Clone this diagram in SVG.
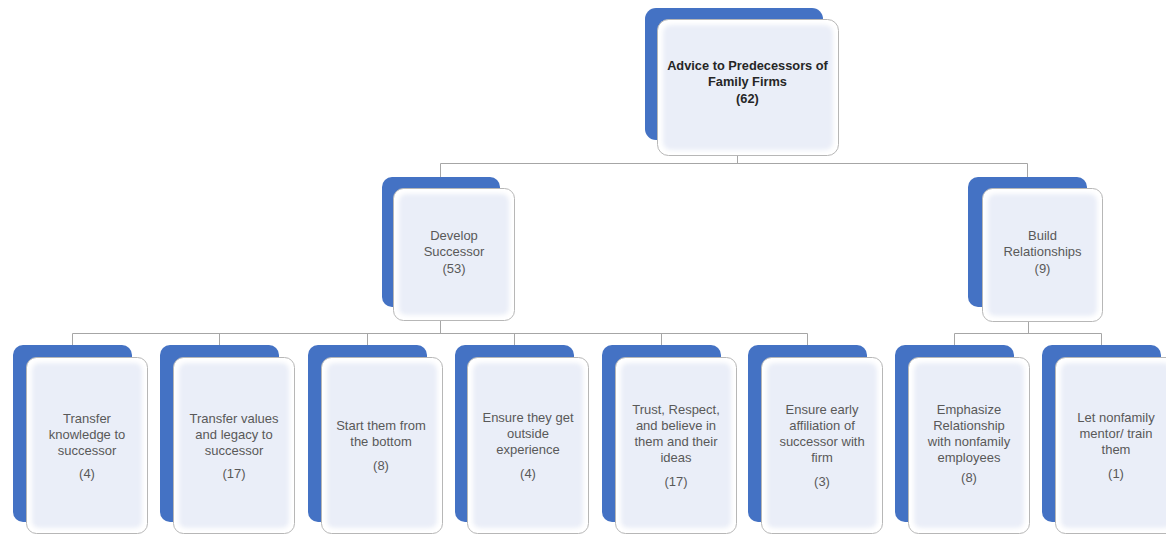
<svg xmlns="http://www.w3.org/2000/svg" width="1166" height="535" viewBox="0 0 1166 535">
  <defs>
    <style>
      .back { fill: #4472c4; }
      .card { fill: #ffffff; stroke: #b7b7b7; stroke-width: 1; }
      .tint { fill: #eaeef8; filter: url(#soft); }
      .wire { fill: none; stroke: #a6a6a6; stroke-width: 1; }
      .lbl { font-family: "Liberation Sans", Arial, sans-serif; font-size: 13px; fill: #595959; text-anchor: middle; }
      .head { font-family: "Liberation Sans", Arial, sans-serif; font-size: 12.8px; font-weight: bold; fill: #262626; text-anchor: middle; }
    </style>
    <filter id="soft" x="-10%" y="-10%" width="120%" height="120%">
      <feGaussianBlur stdDeviation="2"/>
    </filter>
  </defs>

  <rect width="1166" height="535" fill="#ffffff"/>

  <!-- connectors -->
  <g id="connectors">
    <path class="wire" d="M737.5 155 V163.5 M440.5 163.5 H1027.5 M440.5 163.5 V177 M1027.5 163.5 V177"/>
    <path class="wire" d="M440.5 320 V333.5 M72.5 333.5 H807.5 M72.5 333.5 V345 M219.5 333.5 V345 M367.5 333.5 V345 M514.5 333.5 V345 M661.5 333.5 V345 M807.5 333.5 V345"/>
    <path class="wire" d="M1028.5 321 V333.5 M954.5 333.5 H1101.5 M954.5 333.5 V345 M1101.5 333.5 V345"/>
  </g>

  <!-- root -->
  <g id="root">
    <rect class="back" x="645" y="8" width="178" height="132" rx="11"/>
    <rect class="card" x="657.5" y="19.5" width="181" height="136" rx="11"/>
    <rect class="tint" x="663" y="25" width="170" height="125" rx="8"/>
    <text class="head" x="747.5" y="70">Advice to Predecessors of</text>
    <text class="head" x="747.5" y="86">Family Firms</text>
    <text class="head" x="747.5" y="103">(62)</text>
  </g>

  <!-- second level -->
  <g id="develop-successor">
    <rect class="back" x="382" y="177" width="118" height="130" rx="10"/>
    <rect class="card" x="393.5" y="188.5" width="121" height="132" rx="10"/>
    <rect class="tint" x="399" y="194" width="110" height="121" rx="7"/>
    <text class="lbl" x="454" y="239.5">Develop</text>
    <text class="lbl" x="454" y="256">Successor</text>
    <text class="lbl" x="454" y="272.5">(53)</text>
  </g>

  <g id="build-relationships">
    <rect class="back" x="968" y="177" width="119" height="130" rx="10"/>
    <rect class="card" x="982.5" y="188.5" width="120" height="133" rx="10"/>
    <rect class="tint" x="988" y="194" width="109" height="122" rx="7"/>
    <text class="lbl" x="1042.5" y="239.5">Build</text>
    <text class="lbl" x="1042.5" y="256">Relationships</text>
    <text class="lbl" x="1042.5" y="272.5">(9)</text>
  </g>

  <!-- third level -->
  <g id="transfer-knowledge">
    <rect class="back" x="13" y="345" width="119" height="177" rx="10"/>
    <rect class="card" x="26.5" y="357.5" width="121" height="176" rx="10"/>
    <rect class="tint" x="32" y="363" width="110" height="165" rx="7"/>
    <text class="lbl" x="87" y="423">Transfer</text>
    <text class="lbl" x="87" y="439">knowledge to</text>
    <text class="lbl" x="87" y="455">successor</text>
    <text class="lbl" x="87" y="478">(4)</text>
  </g>

  <g id="transfer-values">
    <rect class="back" x="160" y="345" width="119" height="177" rx="10"/>
    <rect class="card" x="173.5" y="357.5" width="121" height="176" rx="10"/>
    <rect class="tint" x="179" y="363" width="110" height="165" rx="7"/>
    <text class="lbl" x="234" y="423">Transfer values</text>
    <text class="lbl" x="234" y="439">and legacy to</text>
    <text class="lbl" x="234" y="455">successor</text>
    <text class="lbl" x="234" y="478">(17)</text>
  </g>

  <g id="start-bottom">
    <rect class="back" x="308" y="345" width="119" height="177" rx="10"/>
    <rect class="card" x="321.5" y="357.5" width="121" height="176" rx="10"/>
    <rect class="tint" x="327" y="363" width="110" height="165" rx="7"/>
    <text class="lbl" x="381" y="430">Start them from</text>
    <text class="lbl" x="381" y="446">the bottom</text>
    <text class="lbl" x="381" y="470">(8)</text>
  </g>

  <g id="outside-experience">
    <rect class="back" x="455" y="345" width="119" height="177" rx="10"/>
    <rect class="card" x="467.5" y="357.5" width="121" height="176" rx="10"/>
    <rect class="tint" x="473" y="363" width="110" height="165" rx="7"/>
    <text class="lbl" x="528" y="422">Ensure they get</text>
    <text class="lbl" x="528" y="438">outside</text>
    <text class="lbl" x="528" y="454">experience</text>
    <text class="lbl" x="528" y="478">(4)</text>
  </g>

  <g id="trust-respect">
    <rect class="back" x="602" y="345" width="119" height="177" rx="10"/>
    <rect class="card" x="615.5" y="357.5" width="121" height="176" rx="10"/>
    <rect class="tint" x="621" y="363" width="110" height="165" rx="7"/>
    <text class="lbl" x="676" y="414">Trust, Respect,</text>
    <text class="lbl" x="676" y="430">and believe in</text>
    <text class="lbl" x="676" y="446">them and their</text>
    <text class="lbl" x="676" y="462">ideas</text>
    <text class="lbl" x="676" y="486">(17)</text>
  </g>

  <g id="early-affiliation">
    <rect class="back" x="748" y="345" width="119" height="177" rx="10"/>
    <rect class="card" x="761.5" y="357.5" width="121" height="176" rx="10"/>
    <rect class="tint" x="767" y="363" width="110" height="165" rx="7"/>
    <text class="lbl" x="822" y="414">Ensure early</text>
    <text class="lbl" x="822" y="430">affiliation of</text>
    <text class="lbl" x="822" y="446">successor with</text>
    <text class="lbl" x="822" y="462">firm</text>
    <text class="lbl" x="822" y="486">(3)</text>
  </g>

  <g id="nonfamily-relationship">
    <rect class="back" x="895" y="345" width="119" height="177" rx="10"/>
    <rect class="card" x="908.5" y="357.5" width="121" height="176" rx="10"/>
    <rect class="tint" x="914" y="363" width="110" height="165" rx="7"/>
    <text class="lbl" x="969" y="414">Emphasize</text>
    <text class="lbl" x="969" y="430">Relationship</text>
    <text class="lbl" x="969" y="446">with nonfamily</text>
    <text class="lbl" x="969" y="462">employees</text>
    <text class="lbl" x="969" y="482">(8)</text>
  </g>

  <g id="nonfamily-mentor">
    <rect class="back" x="1042" y="345" width="119" height="177" rx="10"/>
    <rect class="card" x="1055.5" y="357.5" width="121" height="176" rx="10"/>
    <rect class="tint" x="1061" y="363" width="110" height="165" rx="7"/>
    <text class="lbl" x="1116" y="422">Let nonfamily</text>
    <text class="lbl" x="1116" y="438">mentor/ train</text>
    <text class="lbl" x="1116" y="454">them</text>
    <text class="lbl" x="1116" y="478">(1)</text>
  </g>
</svg>
